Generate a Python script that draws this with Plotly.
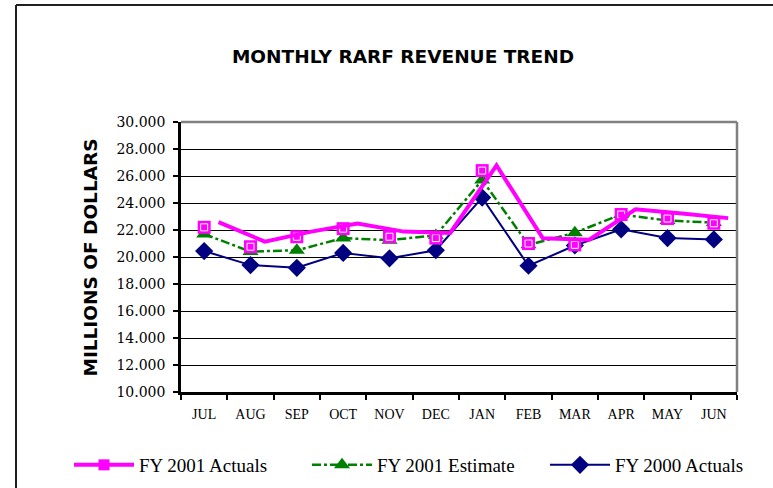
import plotly.graph_objects as go

months = ["JUL", "AUG", "SEP", "OCT", "NOV", "DEC", "JAN", "FEB", "MAR", "APR", "MAY", "JUN"]
fy2001_actuals = [22.2, 20.76, 21.5, 22.1, 21.5, 21.4, 26.4, 21.0, 20.9, 23.15, 22.85, 22.5]
fy2001_estimate = [21.7, 20.4, 20.5, 21.4, 21.25, 21.6, 25.7, 20.9, 21.8, 23.15, 22.7, 22.55]
fy2000_actuals = [20.44, 19.4, 19.2, 20.3, 19.9, 20.5, 24.4, 19.35, 20.85, 22.05, 21.4, 21.3]
y_ticks = [10, 12, 14, 16, 18, 20, 22, 24, 26, 28, 30]

W, H = 773, 488
L, R, T, B = 181, 36, 122, 96
PW, PH = W - L - R, H - T - B

def px_x(px):
    return (px - L) / PW

def px_y(py):
    return (H - B - py) / PH

# The original renders the FY 2001 Actuals line slightly offset from its markers
x_off = 0.31
y_off = 0.38

serif_wide = "DejaVu Serif, Liberation Serif, serif"
serif = "Liberation Serif, Times New Roman, serif"
sans = "DejaVu Sans, Liberation Sans, Arial, sans-serif"

fig = go.Figure()

# offset magenta line (on overlaid axes)
fig.add_trace(go.Scatter(
    x=list(range(12)), y=fy2001_actuals, mode="lines",
    line=dict(color="#FF00FF", width=4), xaxis="x2", yaxis="y2",
    showlegend=False, hoverinfo="skip"))

fig.add_trace(go.Scatter(
    x=months, y=fy2000_actuals, mode="lines+markers", name="FY 2000 Actuals",
    line=dict(color="#000080", width=2),
    marker=dict(symbol="diamond", size=14, color="#000080"), legendrank=3))

fig.add_trace(go.Scatter(
    x=months, y=fy2001_estimate, mode="lines+markers", name="FY 2001 Estimate",
    line=dict(color="#008000", width=2.5, dash="dashdot"),
    marker=dict(symbol="triangle-up", size=14, color="#008000"), legendrank=2))

fig.add_trace(go.Scatter(
    x=months, y=fy2001_actuals, mode="markers", showlegend=False, hoverinfo="skip",
    marker=dict(symbol="square", size=13, color="#FF00FF")))
fig.add_trace(go.Scatter(
    x=months, y=fy2001_actuals, mode="markers", showlegend=False, hoverinfo="skip",
    marker=dict(symbol="square-open", size=7, color="white", line=dict(width=1, color="white"))))

# legend entry for FY 2001 Actuals
fig.add_trace(go.Scatter(
    x=[None], y=[None], mode="lines+markers", name="FY 2001 Actuals",
    line=dict(color="#FF00FF", width=4),
    marker=dict(symbol="square", size=11, color="#FF00FF"), legendrank=1))

fig.update_layout(
    width=W, height=H,
    margin=dict(l=L, r=R, t=T, b=B, autoexpand=False),
    paper_bgcolor="white", plot_bgcolor="white",
    title=dict(text="<b>MONTHLY RARF REVENUE TREND</b>",
               font=dict(family=sans, size=18.5, color="black"),
               x=403 / W, xanchor="center", xref="container",
               y=1 - 57 / H, yanchor="middle", yref="container"),
    xaxis=dict(
        type="category", categoryorder="array", categoryarray=months,
        range=[-0.5, 11.5], showgrid=False, zeroline=False,
        showline=True, linecolor="black", linewidth=2.5,
        ticks="outside", tickson="boundaries", ticklen=5, tickwidth=2, tickcolor="black",
        ticklabelstandoff=7,
        tickfont=dict(family=serif, size=14, color="black"), fixedrange=True),
    yaxis=dict(
        range=[10, 30], tickvals=y_ticks, tickformat=".3f",
        showgrid=True, gridcolor="black", gridwidth=1, zeroline=False,
        showline=True, linecolor="black", linewidth=2.5,
        ticks="outside", ticklen=5, tickwidth=2, tickcolor="black",
        ticklabelstandoff=5,
        tickfont=dict(family=serif_wide, size=14, color="black"), fixedrange=True),
    xaxis2=dict(overlaying="x", range=[-0.5 - x_off, 11.5 - x_off], visible=False, fixedrange=True),
    yaxis2=dict(overlaying="y", range=[10 - y_off, 30 - y_off], visible=False, fixedrange=True),
    legend=dict(
        orientation="h", x=px_x(69), xanchor="left", y=px_y(446), yanchor="top",
        font=dict(family=serif, size=19, color="black"),
        itemwidth=60, entrywidth=163, traceorder="normal", bgcolor="rgba(0,0,0,0)"),
    showlegend=True,
    annotations=[dict(
        text="<b>MILLIONS OF DOLLARS</b>", textangle=-90,
        x=px_x(77), y=px_y(258), xref="paper", yref="paper",
        showarrow=False, font=dict(family=sans, size=18.5, color="black"))],
    shapes=[
        # plot-area gray top and right border
        dict(type="line", xref="paper", yref="paper", x0=0, x1=1, y0=1, y1=1,
             line=dict(color="#808080", width=2.5)),
        dict(type="line", xref="paper", yref="paper", x0=1, x1=1, y0=0, y1=1,
             line=dict(color="#808080", width=2.5)),
        # outer chart border (top and left)
        dict(type="line", xref="paper", yref="paper", x0=px_x(16), x1=px_x(775),
             y0=px_y(5), y1=px_y(5), line=dict(color="#202020", width=2)),
        dict(type="line", xref="paper", yref="paper", x0=px_x(16), x1=px_x(16),
             y0=px_y(5), y1=px_y(490), line=dict(color="#202020", width=2)),
    ],
)

fig.write_html("out.html", config={"displayModeBar": False},
               post_script="document.body.style.margin='0';")
